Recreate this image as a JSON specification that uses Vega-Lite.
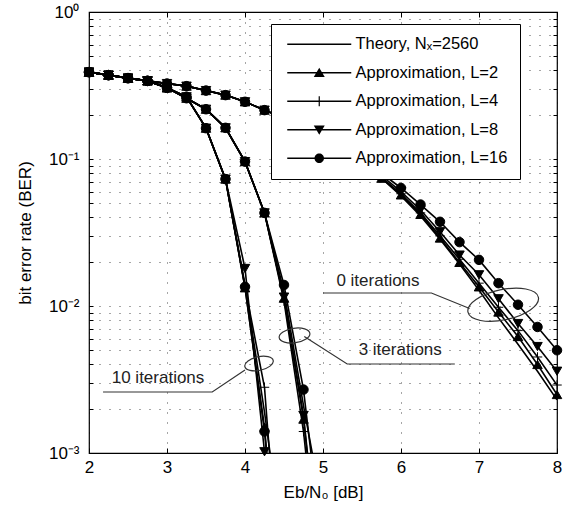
{
"$schema": "https://vega.github.io/schema/vega-lite/v6.json",
"width": 468, "height": 441,
"autosize": {"type": "none"},
"padding": {"left": 89, "top": 12, "right": 13, "bottom": 67},
"background": "white",
"config": {
  "view": {"stroke": "black", "strokeWidth": 1.2},
  "font": "Liberation Sans, Arial, sans-serif"
},
"datasets": {
"c": [
{"s":"T","i":0,"x":2,"y":0.39},{"s":"T","i":0,"x":2.25,"y":0.372},{"s":"T","i":0,"x":2.5,"y":0.355},{"s":"T","i":0,"x":2.75,"y":0.34},{"s":"T","i":0,"x":3,"y":0.326},{"s":"T","i":0,"x":3.25,"y":0.313},{"s":"T","i":0,"x":3.5,"y":0.292},{"s":"T","i":0,"x":3.75,"y":0.272},{"s":"T","i":0,"x":4,"y":0.245},{"s":"T","i":0,"x":4.25,"y":0.215},{"s":"T","i":0,"x":4.5,"y":0.19},{"s":"T","i":0,"x":4.75,"y":0.165},{"s":"T","i":0,"x":5,"y":0.14},{"s":"T","i":0,"x":5.25,"y":0.118},
{"s":"T","i":0,"x":5.5,"y":0.094},{"s":"T","i":0,"x":5.75,"y":0.074},{"s":"T","i":0,"x":6,"y":0.056},{"s":"T","i":0,"x":6.25,"y":0.041},{"s":"T","i":0,"x":6.5,"y":0.0285},{"s":"T","i":0,"x":6.75,"y":0.0193},{"s":"T","i":0,"x":7,"y":0.0128},{"s":"T","i":0,"x":7.25,"y":0.0083},{"s":"T","i":0,"x":7.5,"y":0.0055},{"s":"T","i":0,"x":7.75,"y":0.0036},{"s":"T","i":0,"x":8,"y":0.0023},
{"s":"A2","i":0,"x":2,"y":0.39},{"s":"A2","i":0,"x":2.25,"y":0.372},{"s":"A2","i":0,"x":2.5,"y":0.355},{"s":"A2","i":0,"x":2.75,"y":0.34},{"s":"A2","i":0,"x":3,"y":0.326},{"s":"A2","i":0,"x":3.25,"y":0.313},{"s":"A2","i":0,"x":3.5,"y":0.292},{"s":"A2","i":0,"x":3.75,"y":0.272},{"s":"A2","i":0,"x":4,"y":0.245},{"s":"A2","i":0,"x":4.25,"y":0.215},{"s":"A2","i":0,"x":4.5,"y":0.19},{"s":"A2","i":0,"x":4.75,"y":0.165},{"s":"A2","i":0,"x":5,"y":0.14},{"s":"A2","i":0,"x":5.25,"y":0.118},
{"s":"A2","i":0,"x":5.5,"y":0.094},{"s":"A2","i":0,"x":5.75,"y":0.074},{"s":"A2","i":0,"x":6,"y":0.057},{"s":"A2","i":0,"x":6.25,"y":0.042},{"s":"A2","i":0,"x":6.5,"y":0.029},{"s":"A2","i":0,"x":6.75,"y":0.0198},{"s":"A2","i":0,"x":7,"y":0.0135},{"s":"A2","i":0,"x":7.25,"y":0.0091},{"s":"A2","i":0,"x":7.5,"y":0.0062},{"s":"A2","i":0,"x":7.75,"y":0.004},{"s":"A2","i":0,"x":8,"y":0.0025},
{"s":"A4","i":0,"x":2,"y":0.39},{"s":"A4","i":0,"x":2.25,"y":0.372},{"s":"A4","i":0,"x":2.5,"y":0.355},{"s":"A4","i":0,"x":2.75,"y":0.34},{"s":"A4","i":0,"x":3,"y":0.326},{"s":"A4","i":0,"x":3.25,"y":0.313},{"s":"A4","i":0,"x":3.5,"y":0.292},{"s":"A4","i":0,"x":3.75,"y":0.272},{"s":"A4","i":0,"x":4,"y":0.245},{"s":"A4","i":0,"x":4.25,"y":0.215},{"s":"A4","i":0,"x":4.5,"y":0.19},{"s":"A4","i":0,"x":4.75,"y":0.165},{"s":"A4","i":0,"x":5,"y":0.14},{"s":"A4","i":0,"x":5.25,"y":0.118},
{"s":"A4","i":0,"x":5.5,"y":0.095},{"s":"A4","i":0,"x":5.75,"y":0.075},{"s":"A4","i":0,"x":6,"y":0.058},{"s":"A4","i":0,"x":6.25,"y":0.043},{"s":"A4","i":0,"x":6.5,"y":0.03},{"s":"A4","i":0,"x":6.75,"y":0.0208},{"s":"A4","i":0,"x":7,"y":0.0143},{"s":"A4","i":0,"x":7.25,"y":0.0098},{"s":"A4","i":0,"x":7.5,"y":0.0068},{"s":"A4","i":0,"x":7.75,"y":0.0045},{"s":"A4","i":0,"x":8,"y":0.0029},
{"s":"A8","i":0,"x":2,"y":0.39},{"s":"A8","i":0,"x":2.25,"y":0.372},{"s":"A8","i":0,"x":2.5,"y":0.355},{"s":"A8","i":0,"x":2.75,"y":0.34},{"s":"A8","i":0,"x":3,"y":0.326},{"s":"A8","i":0,"x":3.25,"y":0.313},{"s":"A8","i":0,"x":3.5,"y":0.292},{"s":"A8","i":0,"x":3.75,"y":0.272},{"s":"A8","i":0,"x":4,"y":0.245},{"s":"A8","i":0,"x":4.25,"y":0.215},{"s":"A8","i":0,"x":4.5,"y":0.19},{"s":"A8","i":0,"x":4.75,"y":0.165},{"s":"A8","i":0,"x":5,"y":0.14},{"s":"A8","i":0,"x":5.25,"y":0.118},
{"s":"A8","i":0,"x":5.5,"y":0.096},{"s":"A8","i":0,"x":5.75,"y":0.077},{"s":"A8","i":0,"x":6,"y":0.06},{"s":"A8","i":0,"x":6.25,"y":0.045},{"s":"A8","i":0,"x":6.5,"y":0.032},{"s":"A8","i":0,"x":6.75,"y":0.0222},{"s":"A8","i":0,"x":7,"y":0.0163},{"s":"A8","i":0,"x":7.25,"y":0.0112},{"s":"A8","i":0,"x":7.5,"y":0.0076},{"s":"A8","i":0,"x":7.75,"y":0.0053},{"s":"A8","i":0,"x":8,"y":0.0036},
{"s":"A16","i":0,"x":2,"y":0.39},{"s":"A16","i":0,"x":2.25,"y":0.372},{"s":"A16","i":0,"x":2.5,"y":0.355},{"s":"A16","i":0,"x":2.75,"y":0.34},{"s":"A16","i":0,"x":3,"y":0.326},{"s":"A16","i":0,"x":3.25,"y":0.313},{"s":"A16","i":0,"x":3.5,"y":0.292},{"s":"A16","i":0,"x":3.75,"y":0.272},{"s":"A16","i":0,"x":4,"y":0.245},{"s":"A16","i":0,"x":4.25,"y":0.215},{"s":"A16","i":0,"x":4.5,"y":0.19},{"s":"A16","i":0,"x":4.75,"y":0.165},{"s":"A16","i":0,"x":5,"y":0.14},{"s":"A16","i":0,"x":5.25,"y":0.118},
{"s":"A16","i":0,"x":5.5,"y":0.098},{"s":"A16","i":0,"x":5.75,"y":0.08},{"s":"A16","i":0,"x":6,"y":0.0635},{"s":"A16","i":0,"x":6.25,"y":0.049},{"s":"A16","i":0,"x":6.5,"y":0.0374},{"s":"A16","i":0,"x":6.75,"y":0.0272},{"s":"A16","i":0,"x":7,"y":0.0206},{"s":"A16","i":0,"x":7.25,"y":0.0143},{"s":"A16","i":0,"x":7.5,"y":0.0102},{"s":"A16","i":0,"x":7.75,"y":0.0072},{"s":"A16","i":0,"x":8,"y":0.005},
{"s":"T","i":3,"x":2,"y":0.39},{"s":"T","i":3,"x":2.25,"y":0.372},{"s":"T","i":3,"x":2.5,"y":0.355},{"s":"T","i":3,"x":2.75,"y":0.34},{"s":"T","i":3,"x":3,"y":0.305},{"s":"T","i":3,"x":3.25,"y":0.259},{"s":"T","i":3,"x":3.5,"y":0.218},{"s":"T","i":3,"x":3.75,"y":0.163},{"s":"T","i":3,"x":4,"y":0.096},{"s":"T","i":3,"x":4.25,"y":0.043},{"s":"T","i":3,"x":4.5,"y":0.0125},{"s":"T","i":3,"x":4.75,"y":0.0021},{"s":"T","i":3,"x":5,"y":0.0004},
{"s":"A2","i":3,"x":2,"y":0.39},{"s":"A2","i":3,"x":2.25,"y":0.372},{"s":"A2","i":3,"x":2.5,"y":0.355},{"s":"A2","i":3,"x":2.75,"y":0.34},{"s":"A2","i":3,"x":3,"y":0.305},{"s":"A2","i":3,"x":3.25,"y":0.259},{"s":"A2","i":3,"x":3.5,"y":0.218},{"s":"A2","i":3,"x":3.75,"y":0.163},{"s":"A2","i":3,"x":4,"y":0.096},{"s":"A2","i":3,"x":4.25,"y":0.043},{"s":"A2","i":3,"x":4.5,"y":0.0113},{"s":"A2","i":3,"x":4.75,"y":0.0017},{"s":"A2","i":3,"x":5,"y":0.0001},
{"s":"A4","i":3,"x":2,"y":0.39},{"s":"A4","i":3,"x":2.25,"y":0.372},{"s":"A4","i":3,"x":2.5,"y":0.355},{"s":"A4","i":3,"x":2.75,"y":0.34},{"s":"A4","i":3,"x":3,"y":0.305},{"s":"A4","i":3,"x":3.25,"y":0.259},{"s":"A4","i":3,"x":3.5,"y":0.218},{"s":"A4","i":3,"x":3.75,"y":0.163},{"s":"A4","i":3,"x":4,"y":0.096},{"s":"A4","i":3,"x":4.25,"y":0.043},{"s":"A4","i":3,"x":4.5,"y":0.0108},{"s":"A4","i":3,"x":4.75,"y":0.0014},{"s":"A4","i":3,"x":5,"y":0.00008},
{"s":"A8","i":3,"x":2,"y":0.39},{"s":"A8","i":3,"x":2.25,"y":0.372},{"s":"A8","i":3,"x":2.5,"y":0.355},{"s":"A8","i":3,"x":2.75,"y":0.34},{"s":"A8","i":3,"x":3,"y":0.305},{"s":"A8","i":3,"x":3.25,"y":0.259},{"s":"A8","i":3,"x":3.5,"y":0.218},{"s":"A8","i":3,"x":3.75,"y":0.163},{"s":"A8","i":3,"x":4,"y":0.096},{"s":"A8","i":3,"x":4.25,"y":0.043},{"s":"A8","i":3,"x":4.5,"y":0.0115},{"s":"A8","i":3,"x":4.75,"y":0.0018},{"s":"A8","i":3,"x":5,"y":0.0001},
{"s":"A16","i":3,"x":2,"y":0.39},{"s":"A16","i":3,"x":2.25,"y":0.372},{"s":"A16","i":3,"x":2.5,"y":0.355},{"s":"A16","i":3,"x":2.75,"y":0.34},{"s":"A16","i":3,"x":3,"y":0.305},{"s":"A16","i":3,"x":3.25,"y":0.259},{"s":"A16","i":3,"x":3.5,"y":0.218},{"s":"A16","i":3,"x":3.75,"y":0.163},{"s":"A16","i":3,"x":4,"y":0.096},{"s":"A16","i":3,"x":4.25,"y":0.043},{"s":"A16","i":3,"x":4.5,"y":0.0139},{"s":"A16","i":3,"x":4.75,"y":0.0027},{"s":"A16","i":3,"x":5,"y":0.0002},
{"s":"T","i":10,"x":2,"y":0.39},{"s":"T","i":10,"x":2.25,"y":0.372},{"s":"T","i":10,"x":2.5,"y":0.355},{"s":"T","i":10,"x":2.75,"y":0.34},{"s":"T","i":10,"x":3,"y":0.305},{"s":"T","i":10,"x":3.25,"y":0.265},{"s":"T","i":10,"x":3.5,"y":0.162},{"s":"T","i":10,"x":3.75,"y":0.073},{"s":"T","i":10,"x":4,"y":0.014},{"s":"T","i":10,"x":4.25,"y":0.0019},{"s":"T","i":10,"x":4.5,"y":0.0002},
{"s":"A2","i":10,"x":2,"y":0.39},{"s":"A2","i":10,"x":2.25,"y":0.372},{"s":"A2","i":10,"x":2.5,"y":0.355},{"s":"A2","i":10,"x":2.75,"y":0.34},{"s":"A2","i":10,"x":3,"y":0.305},{"s":"A2","i":10,"x":3.25,"y":0.265},{"s":"A2","i":10,"x":3.5,"y":0.162},{"s":"A2","i":10,"x":3.75,"y":0.073},{"s":"A2","i":10,"x":4,"y":0.0133},{"s":"A2","i":10,"x":4.25,"y":0.0015},{"s":"A2","i":10,"x":4.5,"y":0.00005},
{"s":"A4","i":10,"x":2,"y":0.39},{"s":"A4","i":10,"x":2.25,"y":0.372},{"s":"A4","i":10,"x":2.5,"y":0.355},{"s":"A4","i":10,"x":2.75,"y":0.34},{"s":"A4","i":10,"x":3,"y":0.305},{"s":"A4","i":10,"x":3.25,"y":0.265},{"s":"A4","i":10,"x":3.5,"y":0.162},{"s":"A4","i":10,"x":3.75,"y":0.073},{"s":"A4","i":10,"x":4,"y":0.0135},{"s":"A4","i":10,"x":4.25,"y":0.0028},{"s":"A4","i":10,"x":4.5,"y":0.00005},
{"s":"A8","i":10,"x":2,"y":0.39},{"s":"A8","i":10,"x":2.25,"y":0.372},{"s":"A8","i":10,"x":2.5,"y":0.355},{"s":"A8","i":10,"x":2.75,"y":0.34},{"s":"A8","i":10,"x":3,"y":0.305},{"s":"A8","i":10,"x":3.25,"y":0.265},{"s":"A8","i":10,"x":3.5,"y":0.162},{"s":"A8","i":10,"x":3.75,"y":0.073},{"s":"A8","i":10,"x":4,"y":0.018},{"s":"A8","i":10,"x":4.25,"y":0.00102},
{"s":"A16","i":10,"x":2,"y":0.39},{"s":"A16","i":10,"x":2.25,"y":0.372},{"s":"A16","i":10,"x":2.5,"y":0.355},{"s":"A16","i":10,"x":2.75,"y":0.34},{"s":"A16","i":10,"x":3,"y":0.305},{"s":"A16","i":10,"x":3.25,"y":0.265},{"s":"A16","i":10,"x":3.5,"y":0.162},{"s":"A16","i":10,"x":3.75,"y":0.073},{"s":"A16","i":10,"x":4,"y":0.0135},{"s":"A16","i":10,"x":4.25,"y":0.0014},{"s":"A16","i":10,"x":4.5,"y":0.00005}
],
"ann": [
{"g":"a0","x":5.0,"y":0.01226},{"g":"a0","x":6.39,"y":0.01226},{"g":"a0","x":6.88,"y":0.00962},
{"g":"a3","x":6.69,"y":0.00403},{"g":"a3","x":5.31,"y":0.00403},{"g":"a3","x":4.76,"y":0.0062},
{"g":"a10","x":2.18,"y":0.0026},{"g":"a10","x":3.58,"y":0.0026},{"g":"a10","x":4.0,"y":0.00367}
],
"txt": [
{"x":5.705,"y":0.0148,"t":"0 iterations"},
{"x":5.99,"y":0.00502,"t":"3 iterations"},
{"x":2.885,"y":0.00324,"t":"10 iterations"}
],
"e0": [{"x":7.31,"y":0.0102}],
"e3": [{"x":4.635,"y":0.0063}],
"e10": [{"x":4.18,"y":0.00406}]
},
"resolve": {"scale": {"shape": "independent"}, "axis": {"x": "independent", "y": "independent"}},
"layer": [
{
 "data": {"name": "c"},
 "mark": {"type": "line", "clip": true, "color": "black", "strokeWidth": 1.6},
 "encoding": {
  "x": {"field": "x", "type": "quantitative", "scale": {"domain": [2, 8], "nice": false, "zero": false},
   "axis": {"orient": "bottom", "values": [2,3,4,5,6,7,8], "grid": true, "gridDash": [1,9], "gridColor": "#000", "gridOpacity": 0.7, "gridWidth": 1,
    "tickSize": -5, "tickColor": "black", "domain": false, "labelFontSize": 17, "labelColor": "black", "labelPadding": 11, "labelFlush": false,
    "title": "Eb/N₀ [dB]", "titleFontSize": 17, "titleFontWeight": "normal", "titleColor": "black", "titlePadding": 9}},
  "y": {"field": "y", "type": "quantitative", "scale": {"type": "log", "domain": [0.001, 1], "nice": false},
   "axis": {"orient": "left", "values": [0.001,0.002,0.003,0.004,0.005,0.006,0.007,0.008,0.009,0.01,0.02,0.03,0.04,0.05,0.06,0.07,0.08,0.09,0.1,0.2,0.3,0.4,0.5,0.6,0.7,0.8,0.9,1],
    "labelExpr": "datum.value == 1 ? '10⁰' : datum.value == 0.1 ? '10⁻¹' : datum.value == 0.01 ? '10⁻²' : datum.value == 0.001 ? '10⁻³' : ''",
    "grid": true, "gridDash": [1,9], "gridColor": "#000", "gridOpacity": 0.7, "gridWidth": 1,
    "tickSize": -4, "tickColor": "black", "domain": false, "labelFontSize": 17, "labelColor": "black", "labelPadding": 14, "labelFlush": false,
    "title": "bit error rate (BER)", "titleFontSize": 17, "titleFontWeight": "normal", "titleColor": "black", "titlePadding": 14}},
  "detail": [{"field": "s"}, {"field": "i"}],
  "order": {"field": "x"}
 }
},
{
 "data": {"name": "c"},
 "transform": [{"filter": "datum.s != 'T' && datum.y >= 0.00099"}],
 "mark": {"type": "point", "filled": true, "color": "black", "stroke": "black", "strokeWidth": 1, "size": 90, "opacity": 1},
 "encoding": {
  "x": {"field": "x", "type": "quantitative", "axis": null},
  "y": {"field": "y", "type": "quantitative", "scale": {"type": "log"}, "axis": null},
  "shape": {"field": "s", "type": "nominal",
   "scale": {"domain": ["T","A2","A4","A8","A16"], "range": ["circle","triangle-up","M -1 0 L 1 0 M 0 -1 L 0 1","triangle-down","circle"]},
   "legend": null}
 }
},
{
 "data": {"name": "c"},
 "transform": [{"filter": "datum.y < 0"}],
 "mark": {"type": "point", "filled": true, "color": "black", "size": 100, "opacity": 1},
 "encoding": {
  "x": {"field": "x", "type": "quantitative", "axis": null},
  "y": {"field": "y", "type": "quantitative", "scale": {"type": "log"}, "axis": null},
  "shape": {"field": "s", "type": "nominal",
   "scale": {"domain": ["T","A2","A4","A8","A16"], "range": [
     "M -6.4 -0.16 L 6.4 -0.16 L 6.4 0.16 L -6.4 0.16 Z",
     "M -6.4 -0.16 L 6.4 -0.16 L 6.4 0.16 L -6.4 0.16 Z M 0 -1 L 1.1 0.85 L -1.1 0.85 Z",
     "M -6.4 -0.16 L 6.4 -0.16 L 6.4 0.16 L -6.4 0.16 Z M -0.12 -1 L 0.12 -1 L 0.12 1 L -0.12 1 Z",
     "M -6.4 -0.16 L 6.4 -0.16 L 6.4 0.16 L -6.4 0.16 Z M 0 1 L -1.1 -0.85 L 1.1 -0.85 Z",
     "M -6.4 -0.16 L 6.4 -0.16 L 6.4 0.16 L -6.4 0.16 Z M -0.95 0 A 0.95 0.95 0 1 1 0.95 0 A 0.95 0.95 0 1 1 -0.95 0 Z"]},
   "legend": {"orient": "none", "legendX": 182, "legendY": 12, "title": null, "fillColor": "white", "strokeColor": "black", "padding": 12,
    "labelFontSize": 16.5, "labelColor": "black", "labelLimit": 0, "symbolSize": 100, "symbolOffset": 28, "labelOffset": 28, "rowPadding": 11.5,
    "symbolFillColor": "black", "symbolOpacity": 1,
    "labelExpr": "datum.value == 'T' ? 'Theory, Nₓ=2560' : datum.value == 'A2' ? 'Approximation, L=2' : datum.value == 'A4' ? 'Approximation, L=4' : datum.value == 'A8' ? 'Approximation, L=8' : 'Approximation, L=16'"}}
 }
},
{
 "data": {"name": "ann"},
 "mark": {"type": "line", "color": "#333", "strokeWidth": 1.2},
 "encoding": {
  "x": {"field": "x", "type": "quantitative", "axis": null},
  "y": {"field": "y", "type": "quantitative", "scale": {"type": "log"}, "axis": null},
  "detail": {"field": "g"},
  "order": {"field": "x"}
 }
},
{
 "data": {"name": "e0"},
 "mark": {"type": "point", "filled": false, "shape": "M -1 0 A 1 0.42 0 1 1 1 0 A 1 0.42 0 1 1 -1 0 Z", "size": 5184, "angle": -12, "stroke": "#333", "strokeWidth": 1.2, "opacity": 1},
 "encoding": {
  "x": {"field": "x", "type": "quantitative", "axis": null},
  "y": {"field": "y", "type": "quantitative", "scale": {"type": "log"}, "axis": null}
 }
},
{
 "data": {"name": "e3"},
 "mark": {"type": "point", "filled": false, "shape": "M -1 0 A 1 0.47 0 1 1 1 0 A 1 0.47 0 1 1 -1 0 Z", "size": 961, "angle": -8, "stroke": "#333", "strokeWidth": 1.2, "opacity": 1},
 "encoding": {
  "x": {"field": "x", "type": "quantitative", "axis": null},
  "y": {"field": "y", "type": "quantitative", "scale": {"type": "log"}, "axis": null}
 }
},
{
 "data": {"name": "e10"},
 "mark": {"type": "point", "filled": false, "shape": "M -1 0 A 1 0.47 0 1 1 1 0 A 1 0.47 0 1 1 -1 0 Z", "size": 841, "angle": -12, "stroke": "#333", "strokeWidth": 1.2, "opacity": 1},
 "encoding": {
  "x": {"field": "x", "type": "quantitative", "axis": null},
  "y": {"field": "y", "type": "quantitative", "scale": {"type": "log"}, "axis": null}
 }
},
{
 "data": {"name": "txt"},
 "mark": {"type": "text", "fontSize": 17, "color": "#222", "align": "center", "baseline": "middle"},
 "encoding": {
  "x": {"field": "x", "type": "quantitative",
   "axis": {"orient": "top", "values": [2,3,4,5,6,7,8], "labels": false, "grid": false, "domain": false, "tickSize": -5, "tickColor": "black", "title": null}},
  "y": {"field": "y", "type": "quantitative", "scale": {"type": "log"},
   "axis": {"orient": "right", "values": [0.001,0.002,0.003,0.004,0.005,0.006,0.007,0.008,0.009,0.01,0.02,0.03,0.04,0.05,0.06,0.07,0.08,0.09,0.1,0.2,0.3,0.4,0.5,0.6,0.7,0.8,0.9,1], "labels": false, "grid": false, "domain": false, "tickSize": -4, "tickColor": "black", "title": null}},
  "text": {"field": "t"}
 }
}
]
}
